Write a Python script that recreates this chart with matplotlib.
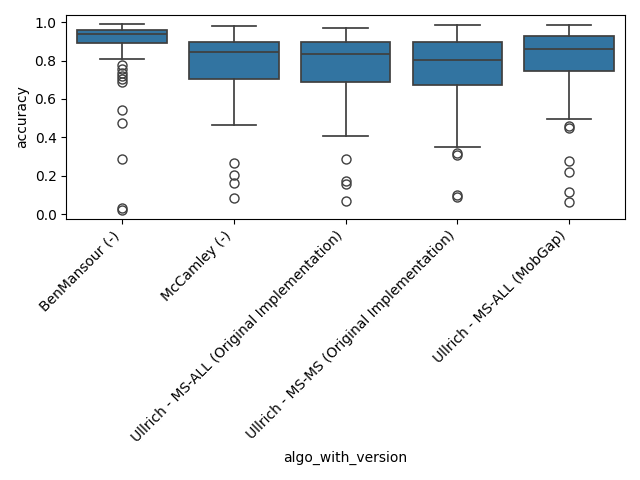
import matplotlib
matplotlib.use("Agg")
import matplotlib.pyplot as plt

categories = [
    "BenMansour (-)",
    "McCamley (-)",
    "Ullrich - MS-ALL (Original Implementation)",
    "Ullrich - MS-MS (Original Implementation)",
    "Ullrich - MS-ALL (MobGap)",
]
whisker_low = [0.810, 0.467, 0.406, 0.352, 0.495]
q1 = [0.890, 0.702, 0.686, 0.674, 0.744]
median = [0.937, 0.843, 0.833, 0.801, 0.859]
q3 = [0.960, 0.895, 0.895, 0.895, 0.929]
whisker_high = [0.989, 0.979, 0.969, 0.986, 0.986]
fliers = [
    [0.777, 0.754, 0.737, 0.720, 0.704, 0.690, 0.542, 0.477, 0.289, 0.033, 0.023],
    [0.268, 0.202, 0.164, 0.085],
    [0.289, 0.171, 0.159, 0.070],
    [0.317, 0.310, 0.098, 0.091],
    [0.460, 0.450, 0.279, 0.221, 0.117, 0.064],
]

stats = []
for i, name in enumerate(categories):
    stats.append(dict(label=name, whislo=whisker_low[i], q1=q1[i], med=median[i],
                      q3=q3[i], whishi=whisker_high[i], fliers=fliers[i]))

fig, ax = plt.subplots(figsize=(6.4, 4.8), dpi=100)
line_c = "#3f3f3f"
lw = 1.25
ax.bxp(stats, positions=range(len(categories)), widths=0.8, patch_artist=True,
       boxprops=dict(facecolor="#3274a1", edgecolor=line_c, linewidth=lw),
       medianprops=dict(color=line_c, linewidth=lw),
       whiskerprops=dict(color=line_c, linewidth=lw),
       capprops=dict(color=line_c, linewidth=lw),
       flierprops=dict(marker="o", markerfacecolor="none", markeredgecolor=line_c,
                       markersize=6.5, linewidth=0, markeredgewidth=1.0))
ax.set_xlim(-0.5, len(categories) - 0.5)
ax.set_xticks(range(len(categories)))
ax.set_xticklabels(categories, rotation=45, ha="right")
ax.set_xlabel("algo_with_version")
ax.set_ylabel("accuracy")
fig.tight_layout()
fig.savefig("out.png")
